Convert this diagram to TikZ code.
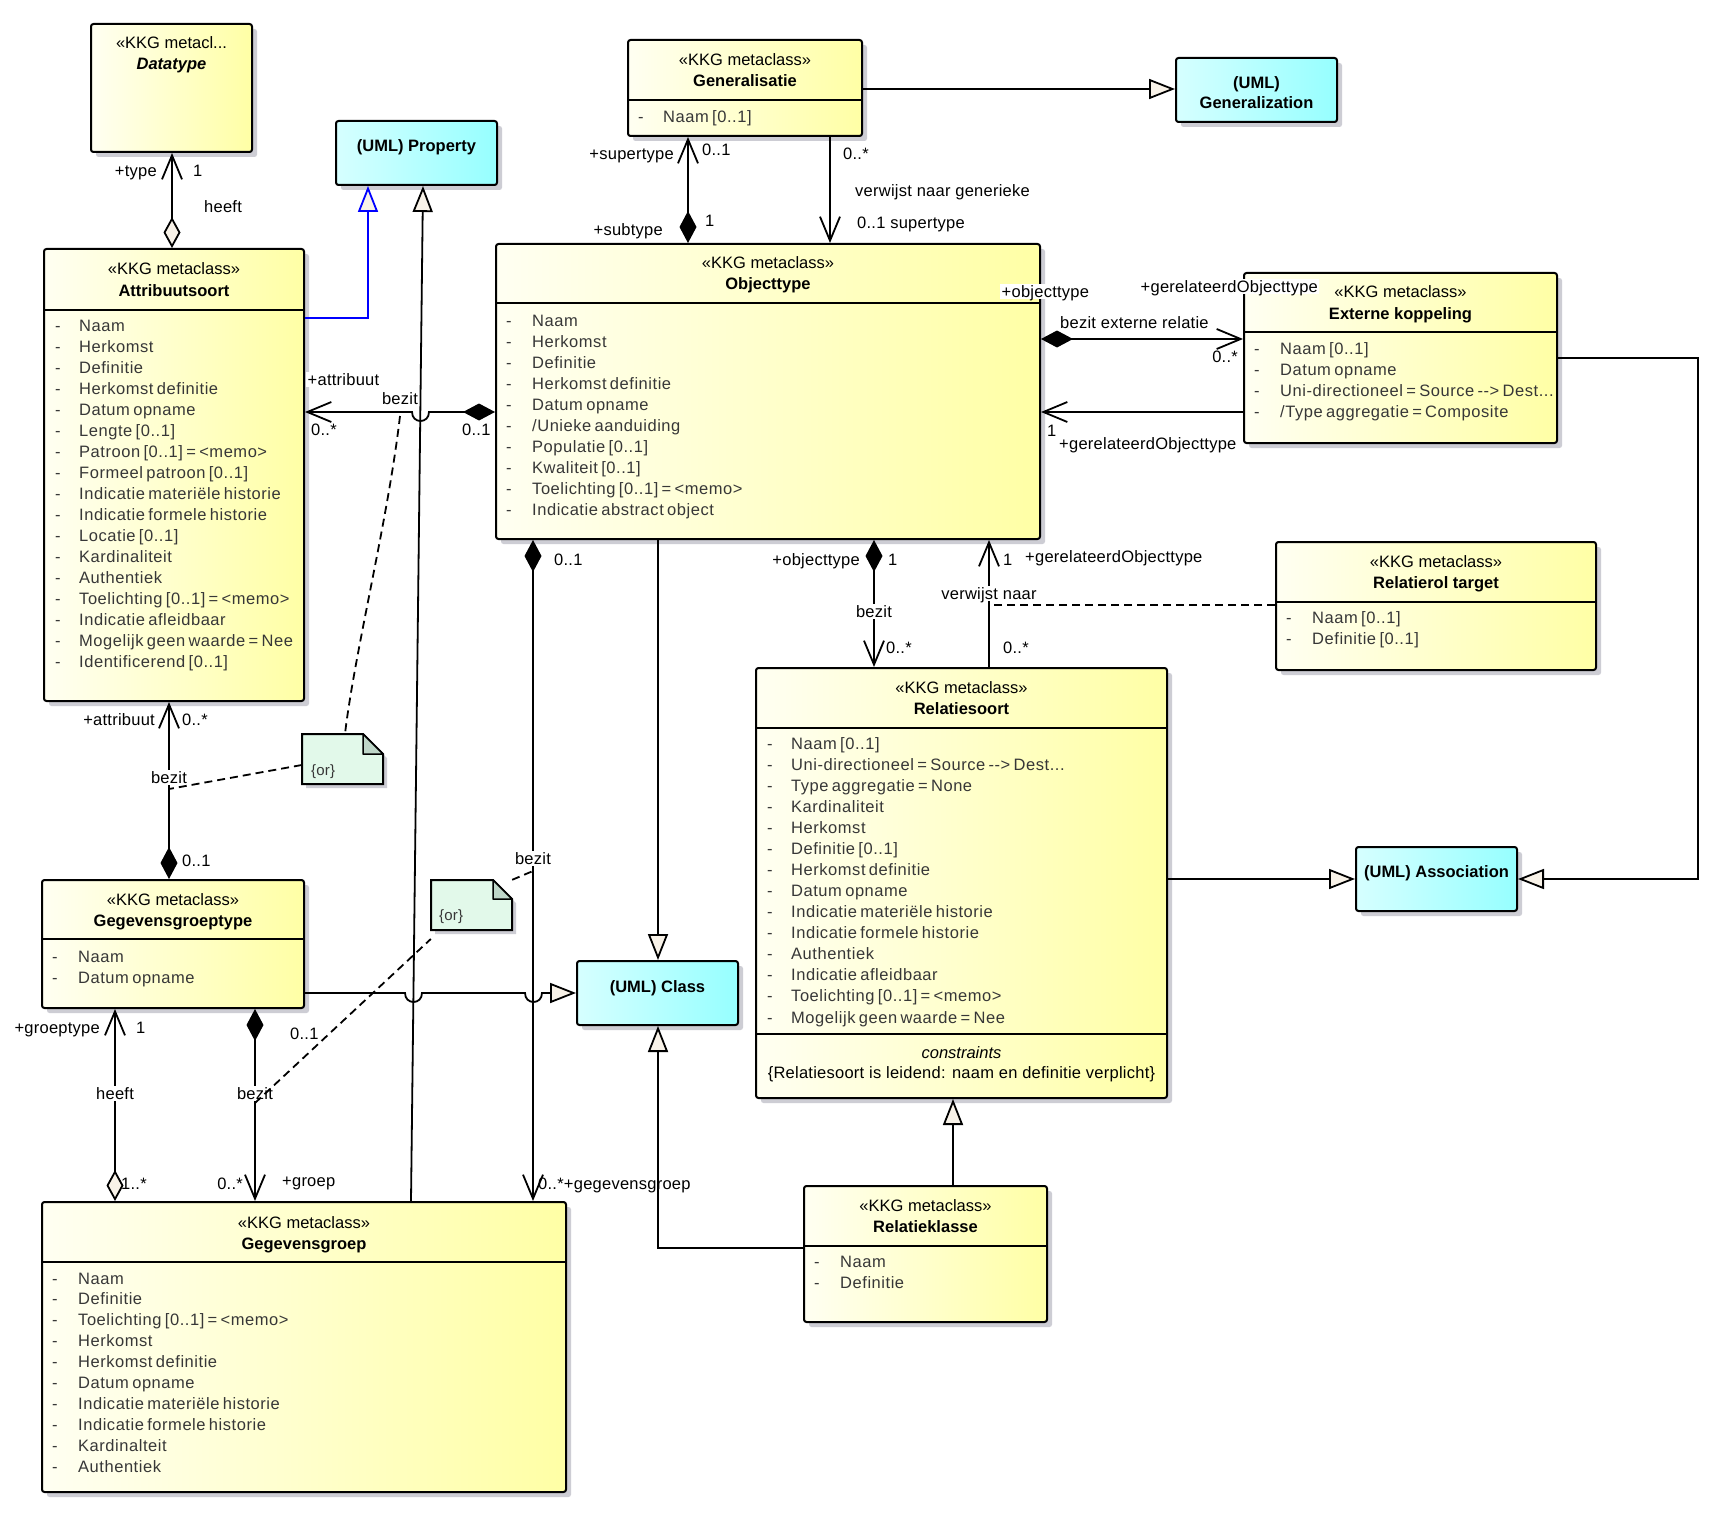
\documentclass[tikz,border=0pt]{standalone}
\usepackage{fontspec}
\setmainfont{Liberation Sans}
\newfontfamily\attrfont[LetterSpace=3.3,WordSpace=0.65]{Liberation Sans}
\newfontfamily\labfont[LetterSpace=1.5]{Liberation Sans}
\usetikzlibrary{arrows.meta,shadows}
\definecolor{yl}{RGB}{255,255,242}
\definecolor{yr}{RGB}{255,255,165}
\definecolor{cl}{RGB}{214,255,255}
\definecolor{cr}{RGB}{150,255,255}
\definecolor{cream}{RGB}{248,242,232}
\definecolor{notec}{RGB}{226,249,234}
\definecolor{foldc}{RGB}{190,214,200}
\definecolor{shc}{RGB}{205,205,212}
\definecolor{attrc}{RGB}{55,55,55}
\newcommand{\fs}{\fontsize{16.5}{20}\selectfont}
\newcommand{\tdots}{...}
\tikzset{
 barb/.tip={Straight Barb[length=24pt,width=20pt]},
 fdia/.tip={Diamond[length=32pt,width=17pt,fill=black]},
 odia/.tip={Diamond[length=31pt,width=17pt,fill=cream]},
 gtri/.tip={Triangle[length=26pt,width=20pt,fill=cream]},
 conn/.style={line width=1.8pt},
 dsh/.style={line width=1.8pt, dash pattern=on 8pt off 5pt},
 box/.style={draw, line width=2pt, left color=yl, right color=yr, rounded corners=2.5pt, inner sep=0pt,
   drop shadow={shadow xshift=5pt, shadow yshift=-5pt, fill=shc, opacity=1}},
 ubox/.style={box, left color=cl, right color=cr},
 lab/.style={inner sep=0pt, text height=12pt, text depth=0pt, font=\labfont\fs},
 wlab/.style={lab, fill=white, inner sep=1.5pt},
 alab/.style={lab, font=\attrfont\fs, text=attrc, anchor=west},
 hlab/.style={lab, font=\fs},
 divl/.style={line width=2pt},
}
% attribute list: name, dash x, text x, first y, spacing, items
\newcommand{\attrlist}[6]{%
 \foreach \t [count=\i from 0] in {#6} {
   \node[alab] (#1-d\i) at (#2, #4+\i*#5) {-};
   \node[alab] (#1-a\i) at (#3, #4+\i*#5) {\t};
 }}
% header: name, center x, y, class name
\newcommand{\hdr}[4]{%
 \node[hlab] (#1-st) at (#2,#3) {«KKG metaclass»};
 \node[hlab,font=\fs\bfseries] (#1-nm) at (#2,#3+21) {#4};}
% note: x1,y1,x2,y2,fold
\newcommand{\notebox}[5]{%
 \fill[shc] (#1+4,#2+4) -- (#3-#5+4,#2+4) -- (#3+4,#2+#5+4) -- (#3+4,#4+4) -- (#1+4,#4+4) -- cycle;
 \draw[line width=2pt, fill=notec] (#1,#2) -- (#3-#5,#2) -- (#3,#2+#5) -- (#3,#4) -- (#1,#4) -- cycle;
 \draw[line width=1.5pt, fill=foldc, line join=round] (#3-#5,#2) -- (#3-#5,#2+#5) -- (#3,#2+#5) -- cycle;}
\begin{document}
\begin{tikzpicture}[x=1pt,y=-1pt]
\fill[white] (0,0) rectangle (1722,1517);
\useasboundingbox (0,0) rectangle (1722,1517);

% ---------- boxes ----------
\node[box, minimum width=161pt, minimum height=128pt] (dt) at (171.5,88) {};
\node[ubox, minimum width=161pt, minimum height=64pt] (prop) at (416.5,153) {};
\node[box, minimum width=234pt, minimum height=96pt] (gen) at (745,88) {};
\node[ubox, minimum width=161pt, minimum height=64pt] (umlgen) at (1256.5,90) {};
\node[box, minimum width=260pt, minimum height=452pt] (attr) at (174,475) {};
\node[box, minimum width=544pt, minimum height=295pt] (obj) at (768,391.5) {};
\node[box, minimum width=313pt, minimum height=170pt] (ext) at (1400.5,358) {};
\node[box, minimum width=320pt, minimum height=128pt] (rtar) at (1436,606) {};
\node[box, minimum width=411pt, minimum height=430pt] (rel) at (961.5,883) {};
\node[ubox, minimum width=161pt, minimum height=64pt] (assoc) at (1436.5,879) {};
\node[ubox, minimum width=161pt, minimum height=64pt] (cls) at (657.5,993) {};
\node[box, minimum width=243pt, minimum height=136pt] (rk) at (925.5,1254) {};
\node[box, minimum width=262pt, minimum height=128pt] (ggt) at (173,944) {};
\node[box, minimum width=524pt, minimum height=290pt] (gg) at (304,1347) {};

% dividers
\draw[divl] (gen.west |- 0,100) -- (gen.east |- 0,100);
\draw[divl] (attr.west |- 0,310) -- (attr.east |- 0,310);
\draw[divl] (obj.west |- 0,303) -- (obj.east |- 0,303);
\draw[divl] (ext.west |- 0,332) -- (ext.east |- 0,332);
\draw[divl] (rtar.west |- 0,602) -- (rtar.east |- 0,602);
\draw[divl] (rel.west |- 0,728) -- (rel.east |- 0,728);
\draw[divl] (rel.west |- 0,1034) -- (rel.east |- 0,1034);
\draw[divl] (rk.west |- 0,1246) -- (rk.east |- 0,1246);
\draw[divl] (ggt.west |- 0,939) -- (ggt.east |- 0,939);
\draw[divl] (gg.west |- 0,1262) -- (gg.east |- 0,1262);

% notes
\node[minimum width=81pt, minimum height=50pt, inner sep=0pt] (note1) at (342.5,759) {};
\notebox{302}{734}{383}{784}{20}
\node[lab, anchor=west, font=\labfont\fontsize{15}{18}\selectfont, text=attrc] (note1t) at (311,769) {\{or\}};
\node[minimum width=81pt, minimum height=50pt, inner sep=0pt] (note2) at (471.5,905) {};
\notebox{431}{880}{512}{930}{19}
\node[lab, anchor=west, font=\labfont\fontsize{15}{18}\selectfont, text=attrc] (note2t) at (439,914) {\{or\}};

% ---------- box texts ----------
\node[hlab] (dt-st) at (171.5,43) {«KKG metacl...};
\node[hlab,font=\fs\bfseries\itshape] (dt-nm) at (171.5,64) {Datatype};
\node[hlab,font=\fs\bfseries] (prop-nm) at (416.5,146) {(UML) Property};
\node[hlab,font=\fs\bfseries] (umlgen-a) at (1256.5,83) {(UML)};
\node[hlab,font=\fs\bfseries] (umlgen-b) at (1256.5,103) {Generalization};
\node[hlab,font=\fs\bfseries] (assoc-nm) at (1436.5,871) {(UML) Association};
\node[hlab,font=\fs\bfseries] (cls-nm) at (657.5,986) {(UML) Class};

\hdr{gen}{745}{60}{Generalisatie}
\attrlist{gen}{638}{663}{117}{21}{Naam [0..1]}
\hdr{attr}{174}{269}{Attribuutsoort}
\attrlist{attr}{55}{79}{325}{21.06}{Naam,Herkomst,Definitie,Herkomst definitie,Datum opname,Lengte [0..1],Patroon [0..1] = <memo>,Formeel patroon [0..1],Indicatie materiële historie,Indicatie formele historie,Locatie [0..1],Kardinaliteit,Authentiek,Toelichting [0..1] = <memo>,Indicatie afleidbaar,Mogelijk geen waarde = Nee,Identificerend [0..1]}
\hdr{obj}{768}{263}{Objecttype}
\attrlist{obj}{506}{532}{320}{21}{Naam,Herkomst,Definitie,Herkomst definitie,Datum opname,/Unieke aanduiding,Populatie [0..1],Kwaliteit [0..1],Toelichting [0..1] = <memo>,Indicatie abstract object}
\hdr{ext}{1400.5}{292}{Externe koppeling}
\attrlist{ext}{1254}{1280}{348}{21}{Naam [0..1],Datum opname,Uni-directioneel = Source -{}-{}> Dest\tdots,/Type aggregatie = Composite}
\hdr{rtar}{1436}{561}{Relatierol target}
\attrlist{rtar}{1286}{1312}{617}{21}{Naam [0..1],Definitie [0..1]}
\hdr{rel}{961.5}{687}{Relatiesoort}
\attrlist{rel}{767}{791}{743}{21.08}{Naam [0..1],Uni-directioneel = Source -{}-{}> Dest\tdots,Type aggregatie = None,Kardinaliteit,Herkomst,Definitie [0..1],Herkomst definitie,Datum opname,Indicatie materiële historie,Indicatie formele historie,Authentiek,Indicatie afleidbaar,Toelichting [0..1] = <memo>,Mogelijk geen waarde = Nee}
\node[hlab,font=\fs\itshape] (rel-c1) at (961.5,1052) {constraints};
\node[lab] (rel-c2) at (961.5,1072) {\{Relatiesoort is leidend: naam en definitie verplicht\}};
\hdr{rk}{925.5}{1205}{Relatieklasse}
\attrlist{rk}{814}{840}{1261}{21}{Naam,Definitie}
\hdr{ggt}{173}{899}{Gegevensgroeptype}
\attrlist{ggt}{52}{78}{956}{21}{Naam,Datum opname}
\hdr{gg}{304}{1222}{Gegevensgroep}
\attrlist{gg}{52}{78}{1278}{20.9}{Naam,Definitie,Toelichting [0..1] = <memo>,Herkomst,Herkomst definitie,Datum opname,Indicatie materiële historie,Indicatie formele historie,Kardinalteit,Authentiek}

% ---------- connectors ----------
\draw[conn,{barb}-{odia}] (dt.south -| 172,0) -- (attr.north -| 172,0);
\draw[conn,blue,-{gtri}] (attr.east |- 0,318) -| (prop.south -| 368,0);
\draw[conn,-{gtri}] (gg.north -| 411,0) -- (prop.south -| 423,0);
\draw[conn,-{gtri}] (gen.east |- 0,89) -- (umlgen.west |- 0,89);
\draw[conn,{barb}-{fdia}] (gen.south -| 688,0) -- (obj.north -| 688,0);
\draw[conn,-{barb}] (gen.south -| 830,0) -- (obj.north -| 830,0);
\draw[conn,{fdia}-{barb}] (obj.east |- 0,339) -- (ext.west |- 0,339);
\draw[conn,-{barb}] (ext.west |- 0,412) -- (obj.east |- 0,412);
\draw[conn,-{gtri}] (ext.east |- 0,358) -| (1698,879) -- (assoc.east |- 0,879);
\draw[conn,-{gtri}] (rel.east |- 0,879) -- (assoc.west |- 0,879);
\draw[conn,{fdia}-{barb}] (obj.south -| 874,0) -- (rel.north -| 874,0);
\draw[conn,-{barb}] (rel.north -| 989,0) -- (obj.south -| 989,0);
\coordinate (vn) at (989,605);
\draw[dsh] (rtar.west |- 0,605) -- (vn);
\draw[conn,-{gtri}] (obj.south -| 658,0) -- (cls.north -| 658,0);
\draw[conn,-{gtri}] (rk.west |- 0,1248) -| (cls.south -| 658,0);
\draw[conn,-{gtri}] (rk.north -| 953,0) -- (rel.south -| 953,0);
\draw[conn,{barb}-{fdia}] (attr.east |- 0,412) -- (412,412) .. controls (412,424) and (429,424) .. (429,412) -- (obj.west |- 0,412);
\draw[conn,{barb}-{fdia}] (attr.south -| 169,0) -- (ggt.north -| 169,0);
\draw[conn,-{gtri}] (ggt.east |- 0,993) -- (405,993) .. controls (405,1005) and (422,1005) .. (422,993) -- (525,993) .. controls (525,1005) and (542,1005) .. (542,993) -- (cls.west |- 0,993);
\draw[conn,{barb}-{odia}] (ggt.south -| 115,0) -- (gg.north -| 115,0);
\draw[conn,{fdia}-{barb}] (ggt.south -| 255,0) -- (gg.north -| 255,0);
\draw[conn,{fdia}-{barb}] (obj.south -| 533,0) -- (gg.north -| 533,0);

% ---------- connector labels ----------
\node[lab,anchor=east] (t1) at (157,171) {+type};
\node[lab,anchor=west] (t2) at (193,171) {1};
\node[lab,anchor=west] (t3) at (204,207) {heeft};
\node[lab,anchor=east] (t4) at (674,154) {+supertype};
\node[lab,anchor=west] (t5) at (702,150) {0..1};
\node[lab,anchor=east] (t6) at (663,230) {+subtype};
\node[lab,anchor=west] (t7) at (705,221) {1};
\node[lab,anchor=west] (t8) at (843,154) {0..*};
\node[lab,anchor=west] (t9) at (855,191) {verwijst naar generieke};
\node[lab,anchor=west] (t10) at (857,223) {0..1 supertype};
\node[wlab,anchor=west] (t11) at (1000,291) {+objecttype};
\node[wlab,anchor=west] (t12) at (1139,286) {+gerelateerdObjecttype};
\node[lab,anchor=west] (t13) at (1060,322) {bezit externe relatie};
\node[lab,anchor=east] (t14) at (1238,356) {0..*};
\node[lab,anchor=west] (t15) at (1047,430) {1};
\node[lab,anchor=west] (t16) at (1059,443) {+gerelateerdObjecttype};
\node[wlab,anchor=west] (t17) at (306,379) {+attribuut};
\node[lab] (lb1) at (400,398) {bezit};
\node[lab,anchor=west] (t18) at (311,429) {0..*};
\node[lab,anchor=west] (t19) at (462,429) {0..1};
\node[lab,anchor=east] (t20) at (155,719) {+attribuut};
\node[lab,anchor=west] (t21) at (182,719) {0..*};
\node[wlab] (lb2) at (169,777) {bezit};
\node[lab,anchor=west] (t22) at (182,860) {0..1};
\node[lab,anchor=east] (t23) at (100,1027) {+groeptype};
\node[lab,anchor=west] (t24) at (136,1027) {1};
\node[wlab] (t25) at (115,1093) {heeft};
\node[lab,anchor=west] (t26) at (121,1183) {1..*};
\node[lab,anchor=west] (t27) at (290,1033) {0..1};
\node[wlab] (lb3) at (255,1093) {bezit};
\node[lab,anchor=east] (t28) at (243,1183) {0..*};
\node[lab,anchor=west] (t29) at (282,1180) {+groep};
\node[lab,anchor=west] (t30) at (554,559) {0..1};
\node[wlab] (lb4) at (533,858) {bezit};
\node[lab,anchor=west] (t31) at (538,1183) {0..*+gegevensgroep};
\node[lab,anchor=east] (t32) at (860,559) {+objecttype};
\node[lab,anchor=west] (t33) at (888,559) {1};
\node[wlab] (t34) at (874,611) {bezit};
\node[lab,anchor=west] (t35) at (886,647) {0..*};
\node[lab,anchor=west] (t36) at (1003,559) {1};
\node[lab,anchor=west] (t37) at (1025,556) {+gerelateerdObjecttype};
\node[wlab] (t38) at (989,593) {verwijst naar};
\node[lab,anchor=west] (t39) at (1003,647) {0..*};

% ---------- constraint dashes ----------
\draw[dsh] (lb1.south |- 0,416) .. controls (388,520) and (355,650) .. (note1.north -| 345,0);
\draw[dsh] (note1.west |- 0,765) -- (lb2.south |- 0,789);
\draw[dsh] (lb3.south |- 0,1103) -- (note2.south west |- 0,939);
\draw[dsh] (note2.north east) -- (lb4.south |- 0,871);
\end{tikzpicture}
\end{document}
